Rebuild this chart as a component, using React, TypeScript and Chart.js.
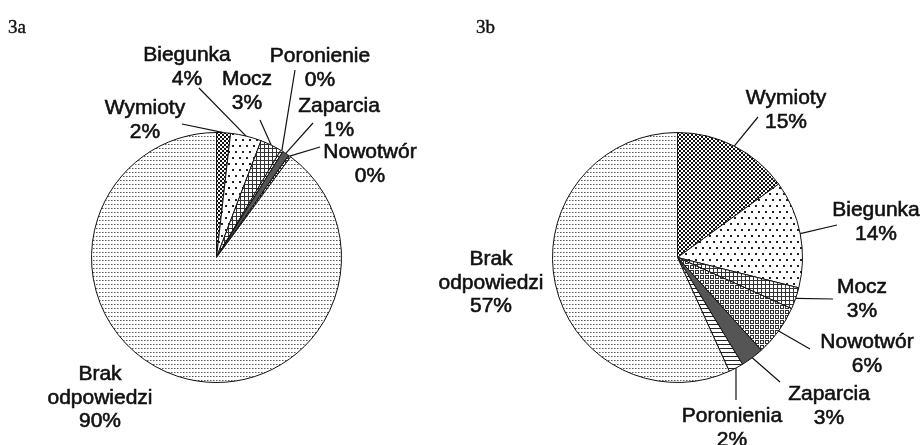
import React, { useEffect, useRef } from "react";
import { Chart, registerables } from "chart.js";
Chart.register(...registerables);

// ---- data ----
const categoriesA = ["Wymioty", "Biegunka", "Mocz", "Poronienie", "Zaparcia", "Nowotwór", "Brak odpowiedzi"];
const valuesA = [1.8, 4.0, 2.8, 0.3, 0.9, 0.3, 89.9];
const percentLabelsA = ["2%", "4%", "3%", "0%", "1%", "0%", "90%"];

const categoriesB = ["Wymioty", "Biegunka", "Mocz", "Nowotwór", "Zaparcia", "Poronienia", "Brak odpowiedzi"];
const valuesB = [15.0, 13.9, 2.8, 6.6, 3.0, 1.9, 56.8];
const percentLabelsB = ["15%", "14%", "3%", "6%", "3%", "2%", "57%"];

// ---- styles ----
const patternKindsA = ["checker", "dots", "grid", "stripes", "solid", "squares", "fine"];
const patternKindsB = ["checker", "dots", "grid", "squares", "solid", "stripes", "fine"];

type LabelLayout = { cx: number; by: number; lead?: [number, number]; split?: boolean };

// positions in page coordinates
const layoutA: LabelLayout[] = [
  { cx: 145, by: 114, lead: [182, 124] },
  { cx: 187, by: 61, lead: [199, 88] },
  { cx: 247, by: 85, lead: [260, 120] },
  { cx: 320, by: 62, lead: [295, 70] },
  { cx: 339, by: 112, lead: [313, 123] },
  { cx: 370, by: 158, lead: [320, 147] },
  { cx: 100, by: 380, split: true },
];
const layoutB: LabelLayout[] = [
  { cx: 786, by: 104, lead: [758, 117] },
  { cx: 876, by: 216, lead: [837, 225] },
  { cx: 862, by: 293, lead: [833, 299] },
  { cx: 867, by: 348, lead: [810, 349] },
  { cx: 829, by: 400, lead: [780, 382] },
  { cx: 732, by: 422, lead: [736, 400] },
  { cx: 491, by: 265, split: true },
];

const INK = "#111111";
const LABEL_FONT = '21px "Liberation Sans", Arial, sans-serif';
const LINE_H = 23.5;

function makePattern(ctx: CanvasRenderingContext2D, kind: string): CanvasPattern | string {
  if (kind === "solid") return "#555555";
  const c = document.createElement("canvas");
  const g = c.getContext("2d")!;
  const tile = (w: number, h: number) => {
    c.width = w;
    c.height = h;
    g.fillStyle = "#ffffff";
    g.fillRect(0, 0, w, h);
  };
  if (kind === "checker") {
    tile(4, 4);
    g.fillStyle = "#111111";
    g.fillRect(0, 0, 2, 2);
    g.fillRect(2, 2, 2, 2);
  } else if (kind === "dots") {
    tile(7, 12);
    g.fillStyle = "#222222";
    g.fillRect(1, 1, 2, 2);
    g.fillRect(4, 7, 2, 2);
  } else if (kind === "grid") {
    tile(4, 4);
    g.fillStyle = "#333333";
    g.fillRect(0, 0, 4, 1);
    g.fillRect(0, 0, 1, 4);
  } else if (kind === "squares") {
    tile(5, 5);
    g.fillStyle = "#333333";
    g.fillRect(0, 0, 4, 4);
    g.fillStyle = "#ffffff";
    g.fillRect(1, 1, 2, 2);
  } else if (kind === "stripes") {
    tile(4, 4);
    g.fillStyle = "#222222";
    g.fillRect(0, 0, 4, 1);
  } else if (kind === "fine") {
    tile(3, 4);
    g.fillStyle = "#5a5a5a";
    g.fillRect(0, 0, 1, 1);
    g.fillStyle = "#a8a8a8";
    g.fillRect(1, 0, 1, 1);
  }
  return ctx.createPattern(c, "repeat")!;
}

type PieProps = {
  title: string;
  titleX: number;
  categories: string[];
  values: number[];
  percents: string[];
  kinds: string[];
  layout: LabelLayout[];
  width: number;
  height: number;
  left: number;
  centerX: number; // pie centre, page coords
};

function PieChart(p: PieProps) {
  const ref = useRef<HTMLCanvasElement | null>(null);
  useEffect(() => {
    const canvas = ref.current!;
    const ctx = canvas.getContext("2d")!;
    const bgs = p.kinds.map((k) => makePattern(ctx, k));
    const off = p.left;
    const labelPlugin = {
      id: "pieLabels",
      afterDraw(chart: any) {
        const c = chart.ctx as CanvasRenderingContext2D;
        const meta = chart.getDatasetMeta(0);
        c.save();
        c.fillStyle = INK;
        c.strokeStyle = INK;
        c.font = '19px "Liberation Serif", "Times New Roman", serif';
        c.textAlign = "left";
        c.textBaseline = "alphabetic";
        c.lineWidth = 0.4;
        c.fillText(p.title, p.titleX - off, 33);
        c.strokeText(p.title, p.titleX - off, 33);

        c.font = LABEL_FONT;
        c.textAlign = "center";
        p.categories.forEach((name, i) => {
          const lay = p.layout[i];
          const lines = lay.split ? name.split(" ") : [name];
          lines.push(p.percents[i]);
          c.lineWidth = 0.6;
          lines.forEach((t, j) => {
            c.fillText(t, lay.cx - off, lay.by + j * LINE_H);
            c.strokeText(t, lay.cx - off, lay.by + j * LINE_H);
          });
          if (lay.lead) {
            const arc = meta.data[i] as any;
            const mid = (arc.startAngle + arc.endAngle) / 2;
            const ex = arc.x + Math.cos(mid) * arc.outerRadius;
            const ey = arc.y + Math.sin(mid) * arc.outerRadius;
            c.lineWidth = 1.2;
            c.beginPath();
            c.moveTo(lay.lead[0] - off, lay.lead[1]);
            c.lineTo(ex, ey);
            c.stroke();
          }
        });
        c.restore();
      },
    };
    const padLeft = p.centerX - off - 125.5;
    const chart = new Chart(canvas, {
      type: "pie",
      data: {
        labels: p.categories,
        datasets: [
          {
            data: p.values,
            backgroundColor: bgs as any,
            borderColor: INK,
            borderWidth: 1,
          },
        ],
      },
      options: {
        responsive: false,
        animation: false,
        events: [],
        layout: { padding: { left: padLeft, top: 132, right: p.width - padLeft - 251, bottom: p.height - 132 - 251 } },
        plugins: { legend: { display: false }, tooltip: { enabled: false } },
      },
      plugins: [labelPlugin],
    });
    return () => chart.destroy();
  }, []);
  return (
    <canvas
      ref={ref}
      width={p.width}
      height={p.height}
      style={{ position: "absolute", left: p.left, top: 0, width: p.width, height: p.height, display: "block" }}
    />
  );
}

export default function App() {
  return (
    <div style={{ position: "absolute", left: 0, top: 0, width: 923, height: 445, background: "#ffffff", overflow: "hidden" }}>
      <PieChart
        title="3a"
        titleX={8}
        categories={categoriesA}
        values={valuesA}
        percents={percentLabelsA}
        kinds={patternKindsA}
        layout={layoutA}
        width={425}
        height={445}
        left={0}
        centerX={216.5}
      />
      <PieChart
        title="3b"
        titleX={476}
        categories={categoriesB}
        values={valuesB}
        percents={percentLabelsB}
        kinds={patternKindsB}
        layout={layoutB}
        width={498}
        height={445}
        left={425}
        centerX={677.5}
      />
    </div>
  );
}
